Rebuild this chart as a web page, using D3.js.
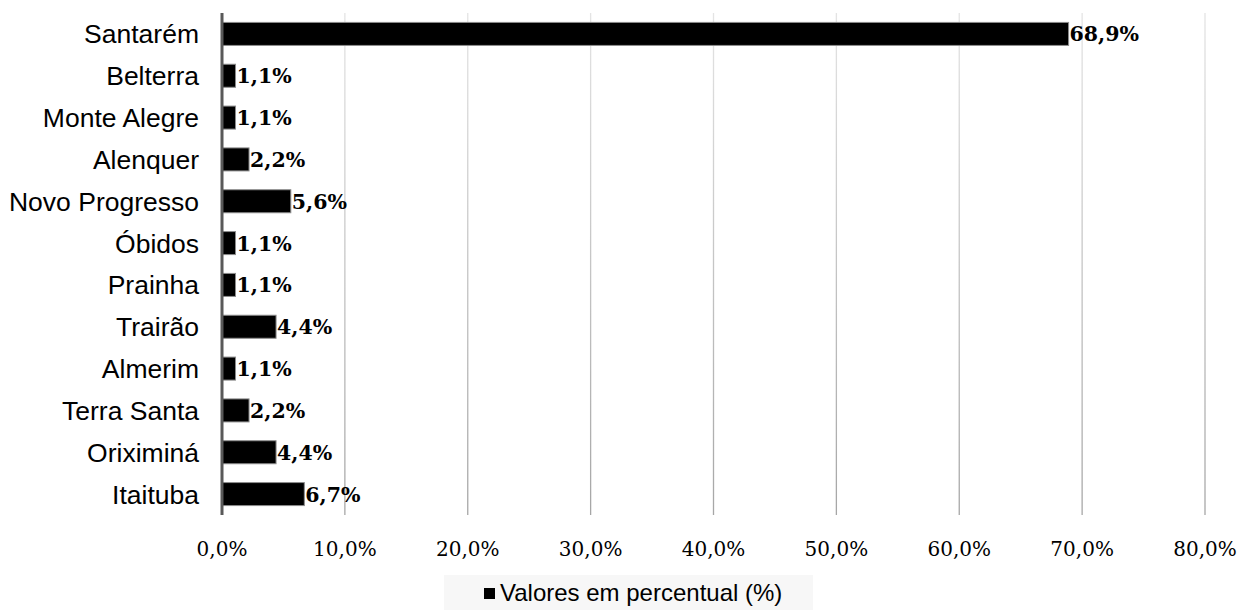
<!DOCTYPE html>
<html>
  <head>
    <script type="text/javascript" src="https://cdn.jsdelivr.net/npm/d3@7"></script>
    <style>
      body { margin: 0; background: #fff; }
      .cat text { font: 26.5px "Liberation Sans", Arial, sans-serif; fill: #000; }
      .tick-lbl { font: 20px "DejaVu Serif", serif; fill: #000; }
      .val { font: bold 20.5px "DejaVu Serif", serif; fill: #000; }
      .legend text { font: 24px "Liberation Sans", Arial, sans-serif; fill: #000; }
    </style>
  </head>
  <body>
    <svg id="chart" width="1240" height="610"></svg>
    <script type="text/javascript">
      // data
      var categories = ['Santarém', 'Belterra', 'Monte Alegre', 'Alenquer', 'Novo Progresso', 'Óbidos',
        'Prainha', 'Trairão', 'Almerim', 'Terra Santa', 'Oriximiná', 'Itaituba'];
      var values = [68.9, 1.1, 1.1, 2.2, 5.6, 1.1, 1.1, 4.4, 1.1, 2.2, 4.4, 6.7];
      var xTicks = [0, 10, 20, 30, 40, 50, 60, 70, 80];
      var seriesName = 'Valores em percentual (%)';

      var svg = d3.select('#chart');
      // plot area (note: "top" is reserved on window, so use plotTop)
      var plotLeft = 222, plotRight = 1205, plotTop = 13, plotBottom = 515;

      var x = d3.scaleLinear().domain([0, 80]).range([plotLeft, plotRight]);
      var y = d3.scaleBand().domain(categories).range([plotTop, plotBottom]).paddingInner(0.45).paddingOuter(0.225);

      var fmt = function (v) { return v.toFixed(1).replace('.', ',') + '%'; };

      // gridlines get darker toward the bottom
      var grad = svg.append('defs').append('linearGradient')
        .attr('id', 'gridGrad').attr('gradientUnits', 'userSpaceOnUse')
        .attr('x1', 0).attr('y1', plotTop).attr('x2', 0).attr('y2', plotBottom);
      grad.append('stop').attr('offset', '0%').attr('stop-color', '#e4e4e4');
      grad.append('stop').attr('offset', '100%').attr('stop-color', '#a6a6a6');

      svg.append('g').selectAll('line')
        .data(xTicks.slice(1))
        .enter().append('line')
        .attr('x1', function (d) { return x(d); })
        .attr('x2', function (d) { return x(d); })
        .attr('y1', plotTop).attr('y2', plotBottom)
        .attr('stroke', 'url(#gridGrad)').attr('stroke-width', 1.3);

      // tick labels
      svg.append('g').selectAll('text')
        .data(xTicks)
        .enter().append('text')
        .attr('class', 'tick-lbl')
        .attr('x', function (d) { return x(d); })
        .attr('y', 556)
        .attr('text-anchor', 'middle')
        .text(fmt);

      // bars
      svg.append('g').selectAll('rect')
        .data(values)
        .enter().append('rect')
        .attr('x', x(0))
        .attr('y', function (d, i) { return y(categories[i]); })
        .attr('width', function (d) { return x(d) - x(0); })
        .attr('height', y.bandwidth())
        .attr('fill', '#000')
        .attr('stroke', '#8c8c8c').attr('stroke-width', 1);

      // value labels
      svg.append('g').selectAll('text')
        .data(values)
        .enter().append('text')
        .attr('class', 'val')
        .attr('x', function (d) { return x(d) + 1; })
        .attr('y', function (d, i) { return y(categories[i]) + y.bandwidth() / 2 + 7.5; })
        .text(fmt);

      // category labels
      var cat = svg.append('g').attr('class', 'cat');
      cat.selectAll('text')
        .data(categories)
        .enter().append('text')
        .attr('x', 199)
        .attr('y', function (d) { return y(d) + y.bandwidth() / 2 + 9.5; })
        .attr('text-anchor', 'end')
        .text(function (d) { return d; });

      // value axis line
      svg.append('line')
        .attr('x1', x(0)).attr('x2', x(0))
        .attr('y1', plotTop).attr('y2', plotBottom)
        .attr('stroke', '#595959').attr('stroke-width', 3);

      // legend
      var lg = svg.append('g').attr('class', 'legend');
      lg.append('rect').attr('x', 444).attr('y', 575).attr('width', 369).attr('height', 35).attr('fill', '#f7f7f7');
      lg.append('rect').attr('x', 484).attr('y', 588).attr('width', 11).attr('height', 11).attr('fill', '#000');
      lg.append('text').attr('x', 500).attr('y', 601).text(seriesName);
    </script>
  </body>
</html>
